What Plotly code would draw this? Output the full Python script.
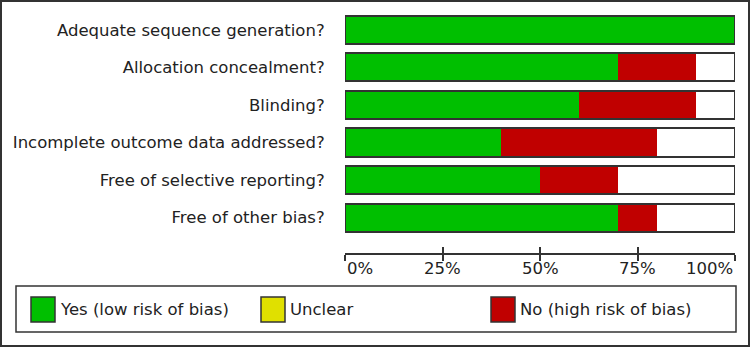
import plotly.graph_objects as go

categories = [
    "Adequate sequence generation?",
    "Allocation concealment?",
    "Blinding?",
    "Incomplete outcome data addressed?",
    "Free of selective reporting?",
    "Free of other bias?",
]
yes_pct = [100, 70, 60, 40, 50, 70]
unclear_pct = [0, 0, 0, 0, 0, 0]
no_pct = [0, 20, 30, 40, 20, 10]
total_pct = [100, 100, 100, 100, 100, 100]

tick_vals = [0, 25, 50, 75, 100]
tick_text = ["0%", "25%", "50%", "75%", "100%"]

legend_labels = ["Yes (low risk of bias)", "Unclear", "No (high risk of bias)"]
colors = ["#00BF00", "#E0E000", "#C00000"]
FONT = "DejaVu Sans"
FS = 16.5
TXT = "#222222"
EDGE = "#333333"

W, H = 750, 347
L, R, T, B = 345, 15, 11, 94
plot_w = W - L - R
plot_h = H - T - B


def px_x(X):
    return (X - L) / plot_w


def px_y(Y):
    return (H - B - Y) / plot_h


fig = go.Figure()
for vals, name, col in zip([yes_pct, unclear_pct, no_pct], legend_labels, colors):
    fig.add_trace(go.Bar(
        y=categories, x=vals, orientation="h", name=name,
        marker=dict(color=col, line=dict(width=0)),
        width=0.75, xaxis="x", yaxis="y", showlegend=False,
        hoverinfo="skip",
    ))

# outline of each full bar
fig.add_trace(go.Bar(
    y=categories, x=total_pct, orientation="h",
    marker=dict(color="rgba(0,0,0,0)", line=dict(color=EDGE, width=2)),
    width=0.75, xaxis="x2", yaxis="y", showlegend=False, hoverinfo="skip",
))

fig.update_layout(
    width=W, height=H,
    margin=dict(l=L, r=R, t=T, b=B, pad=0),
    paper_bgcolor="white", plot_bgcolor="white",
    barmode="stack",
    font=dict(family=FONT, size=FS, color=TXT),
    xaxis=dict(
        range=[0, 100], tickvals=tick_vals, showticklabels=False,
        showgrid=False, zeroline=False, showline=True, linecolor=EDGE,
        linewidth=1.5, ticks="outside", ticklen=6, tickwidth=1.5,
        tickcolor=EDGE, fixedrange=True,
    ),
    xaxis2=dict(
        range=[0, 100], overlaying="x", anchor="y", side="bottom",
        tickvals=tick_vals, showticklabels=False, showgrid=False,
        zeroline=False, showline=False, ticks="inside", ticklen=6,
        tickwidth=1.5, tickcolor=EDGE, fixedrange=True,
    ),
    yaxis=dict(
        type="category", categoryorder="array", categoryarray=categories,
        range=[5.943, -0.5], showgrid=False, zeroline=False, showline=False,
        ticks="outside", ticklen=0, ticklabelstandoff=16,
        tickfont=dict(family=FONT, size=FS, color=TXT), fixedrange=True,
    ),
    showlegend=False,
)

shapes = []
annotations = []
# x tick labels: first left-aligned, last right-aligned, others centered
for i, (tv, tt) in enumerate(zip(tick_vals, tick_text)):
    anchor = "left" if i == 0 else ("right" if i == len(tick_vals) - 1 else "center")
    annotations.append(dict(xref="x", yref="paper", x=tv, y=px_y(268.5),
                            text=tt, showarrow=False, xanchor=anchor,
                            yanchor="middle",
                            font=dict(family=FONT, size=FS, color=TXT)))
# outer frame
shapes.append(dict(type="rect", xref="paper", yref="paper",
                   x0=px_x(1), x1=px_x(749), y0=px_y(346), y1=px_y(1),
                   line=dict(color=EDGE, width=2), fillcolor="rgba(0,0,0,0)"))
# legend box
shapes.append(dict(type="rect", xref="paper", yref="paper",
                   x0=px_x(16), x1=px_x(736), y0=px_y(332), y1=px_y(286),
                   line=dict(color=EDGE, width=1.5), fillcolor="white"))
legend_x = [31, 261, 491]
for lx, lab, col in zip(legend_x, legend_labels, colors):
    shapes.append(dict(type="rect", xref="paper", yref="paper",
                       x0=px_x(lx), x1=px_x(lx + 24), y0=px_y(322), y1=px_y(297),
                       line=dict(color=EDGE, width=1.5), fillcolor=col))
    annotations.append(dict(xref="paper", yref="paper", x=px_x(lx + 27),
                            y=px_y(309.5), text=lab, showarrow=False,
                            xanchor="left", yanchor="middle",
                            font=dict(family=FONT, size=FS, color=TXT)))
fig.update_layout(shapes=shapes, annotations=annotations)

fig.write_html("out.html")
